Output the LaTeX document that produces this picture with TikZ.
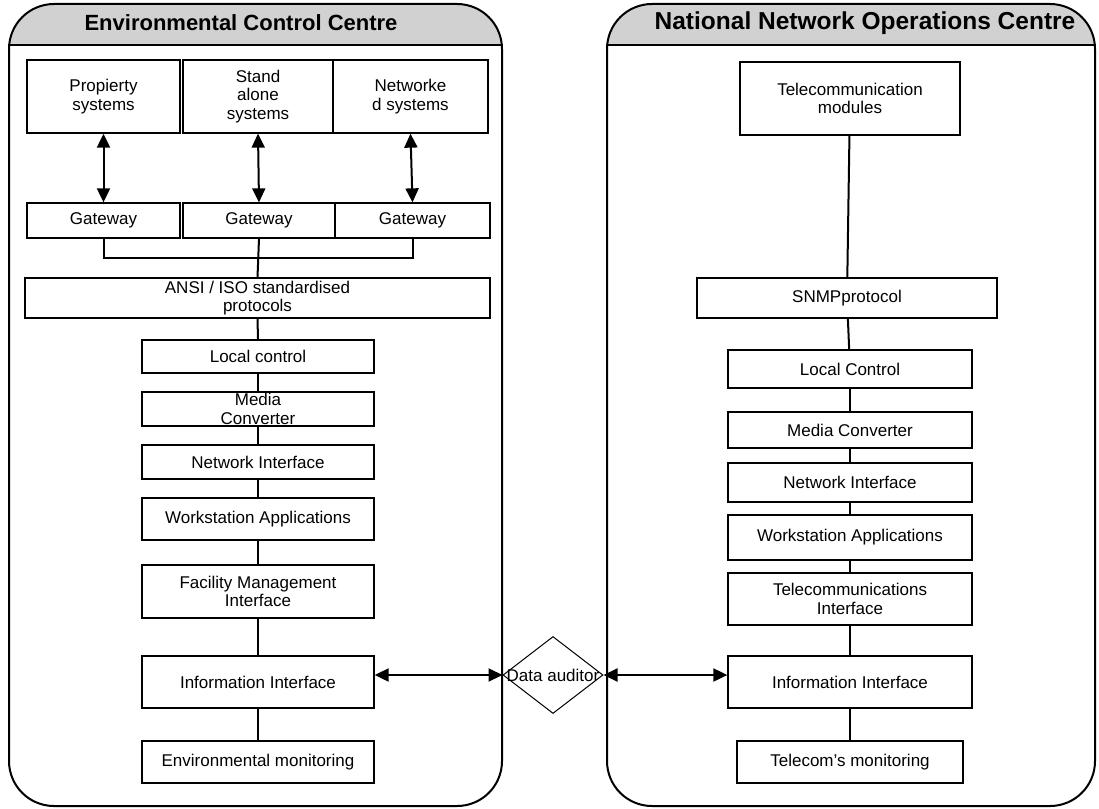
\documentclass[tikz,border=0pt]{standalone}
\usepackage{fontspec}
\setmainfont{Liberation Sans}
\usetikzlibrary{arrows.meta,shapes.geometric}

\begin{document}
\begin{tikzpicture}[x=1pt,y=-1pt,
  box/.style={draw, line width=1.3pt, rectangle, inner sep=0pt, align=center,
              font=\fontsize{17}{18.5}\selectfont},
  link/.style={line width=2pt},
  dbl/.style={line width=2pt, {Triangle[length=14pt,width=13pt]}-{Triangle[length=14pt,width=13pt]}},
  frame/.style={line width=2pt, rounded corners=45pt},
  band/.style={fill=black!18},
  title/.style={font=\bfseries\fontsize{#1}{28}\selectfont}
]
\useasboundingbox[fill=white] (0,0) rectangle (1099,808);

% ---- the two centres: rounded frames with shaded title bands ----
\begin{scope}
  \clip[rounded corners=45pt] (9,4) rectangle (502,806);
  \fill[band] (9,4) rectangle (502,45);
\end{scope}
\draw[frame] (9,4) rectangle (502,806);
\draw[line width=2pt] (9,45) -- (502,45);

\begin{scope}
  \clip[rounded corners=45pt] (607,4) rectangle (1095,806);
  \fill[band] (607,4) rectangle (1095,45);
\end{scope}
\draw[frame] (607,4) rectangle (1095,806);
\draw[line width=2pt] (607,45) -- (1095,45);

\node[title=22] (ecc)  at (241,23) {Environmental Control Centre};
\node[title=24.5] (nnoc) at (865,23) {National Network Operations Centre};

% ---- Environmental Control Centre ----
\node[box, minimum width=153pt, minimum height=73pt] (prop)  at (103.5,96.5) {Propierty\\systems};
\node[box, minimum width=150pt, minimum height=73pt] (stand) at (258,96.5)   {Stand\\alone\\systems};
\node[box, minimum width=155pt, minimum height=73pt] (netw)  at (410.5,96.5) {Networke\\d systems};

\node[box, minimum width=153pt, minimum height=35pt] (gw1) at (103.5,220.5) {Gateway};
\node[box, minimum width=152pt, minimum height=35pt] (gw2) at (259,220.5)   {Gateway};
\node[box, minimum width=155pt, minimum height=35pt] (gw3) at (412.5,220.5) {Gateway};

\node[box, minimum width=465pt, minimum height=40pt] (ansi) at (257.5,298) {ANSI / ISO standardised\\protocols};
\node[box, minimum width=232pt, minimum height=33pt] (lcl) at (258,356.5) {Local control};
\node[box, minimum width=232pt, minimum height=34pt] (mcl) at (258,409)   {Media\\Converter};
\node[box, minimum width=232pt, minimum height=34pt] (nil) at (258,462)   {Network Interface};
\node[box, minimum width=232pt, minimum height=42pt] (wal) at (258,519)   {Workstation Applications};
\node[box, minimum width=232pt, minimum height=53pt] (fml) at (258,591.5) {Facility Management\\Interface};
\node[box, minimum width=232pt, minimum height=52pt] (iil) at (258,682)   {Information Interface};
\node[box, minimum width=232pt, minimum height=42pt] (eml) at (258,762)   {Environmental monitoring};

\draw[dbl] (prop.south)  -- (gw1.north);
\draw[dbl] (stand.south) -- (gw2.north);
\draw[dbl] (netw.south)  -- (gw3.north);

\coordinate (bus) at (258,258);
\draw[link] (gw1.south) |- (bus) -| (gw3.south);
\draw[link] (gw2.south) -- (ansi.north);
\draw[link] (ansi.south) -- (lcl.north);
\draw[link] (lcl) -- (mcl);
\draw[link] (mcl) -- (nil);
\draw[link] (nil) -- (wal);
\draw[link] (wal) -- (fml);
\draw[link] (fml) -- (iil);
\draw[link] (iil) -- (eml);

% ---- National Network Operations Centre ----
\node[box, minimum width=220pt, minimum height=73pt] (tmod) at (850,98.5)  {Telecommunication\\modules};
\node[box, minimum width=300pt, minimum height=40pt] (snmp) at (847,298)   {SNMPprotocol};
\node[box, minimum width=244pt, minimum height=38pt] (lcr)  at (850,369)   {Local Control};
\node[box, minimum width=244pt, minimum height=36pt] (mcr)  at (850,430)   {Media Converter};
\node[box, minimum width=244pt, minimum height=39pt] (nir)  at (850,482.5) {Network Interface};
\node[box, minimum width=244pt, minimum height=45pt] (war)  at (850,537.5) {Workstation Applications};
\node[box, minimum width=244pt, minimum height=52pt] (tir)  at (850,599)   {Telecommunications\\Interface};
\node[box, minimum width=244pt, minimum height=52pt] (iir)  at (850,682)   {Information Interface};
\node[box, minimum width=226pt, minimum height=42pt] (tmon) at (850,762)   {Telecom's monitoring};

\draw[link] (tmod) -- (snmp);
\draw[link] (snmp) -- (lcr);
\draw[link] (lcr) -- (mcr);
\draw[link] (mcr) -- (nir);
\draw[link] (nir) -- (war);
\draw[link] (war) -- (tir);
\draw[link] (tir) -- (iir);
\draw[link] (iir) -- (tmon);

% ---- data auditor between the two centres ----
\node[diamond, draw, line width=1pt, minimum width=100pt, minimum height=77pt, inner sep=0pt] (aud) at (553,675) {};
\node[font=\fontsize{17}{18.5}\selectfont, inner sep=0pt] (audtxt) at (aud.center) {Data auditor};

\draw[dbl] (aud.west -| iil.east) -- (aud.west);
\draw[dbl] (aud.east) -- (aud.east -| iir.west);
\end{tikzpicture}
\end{document}
